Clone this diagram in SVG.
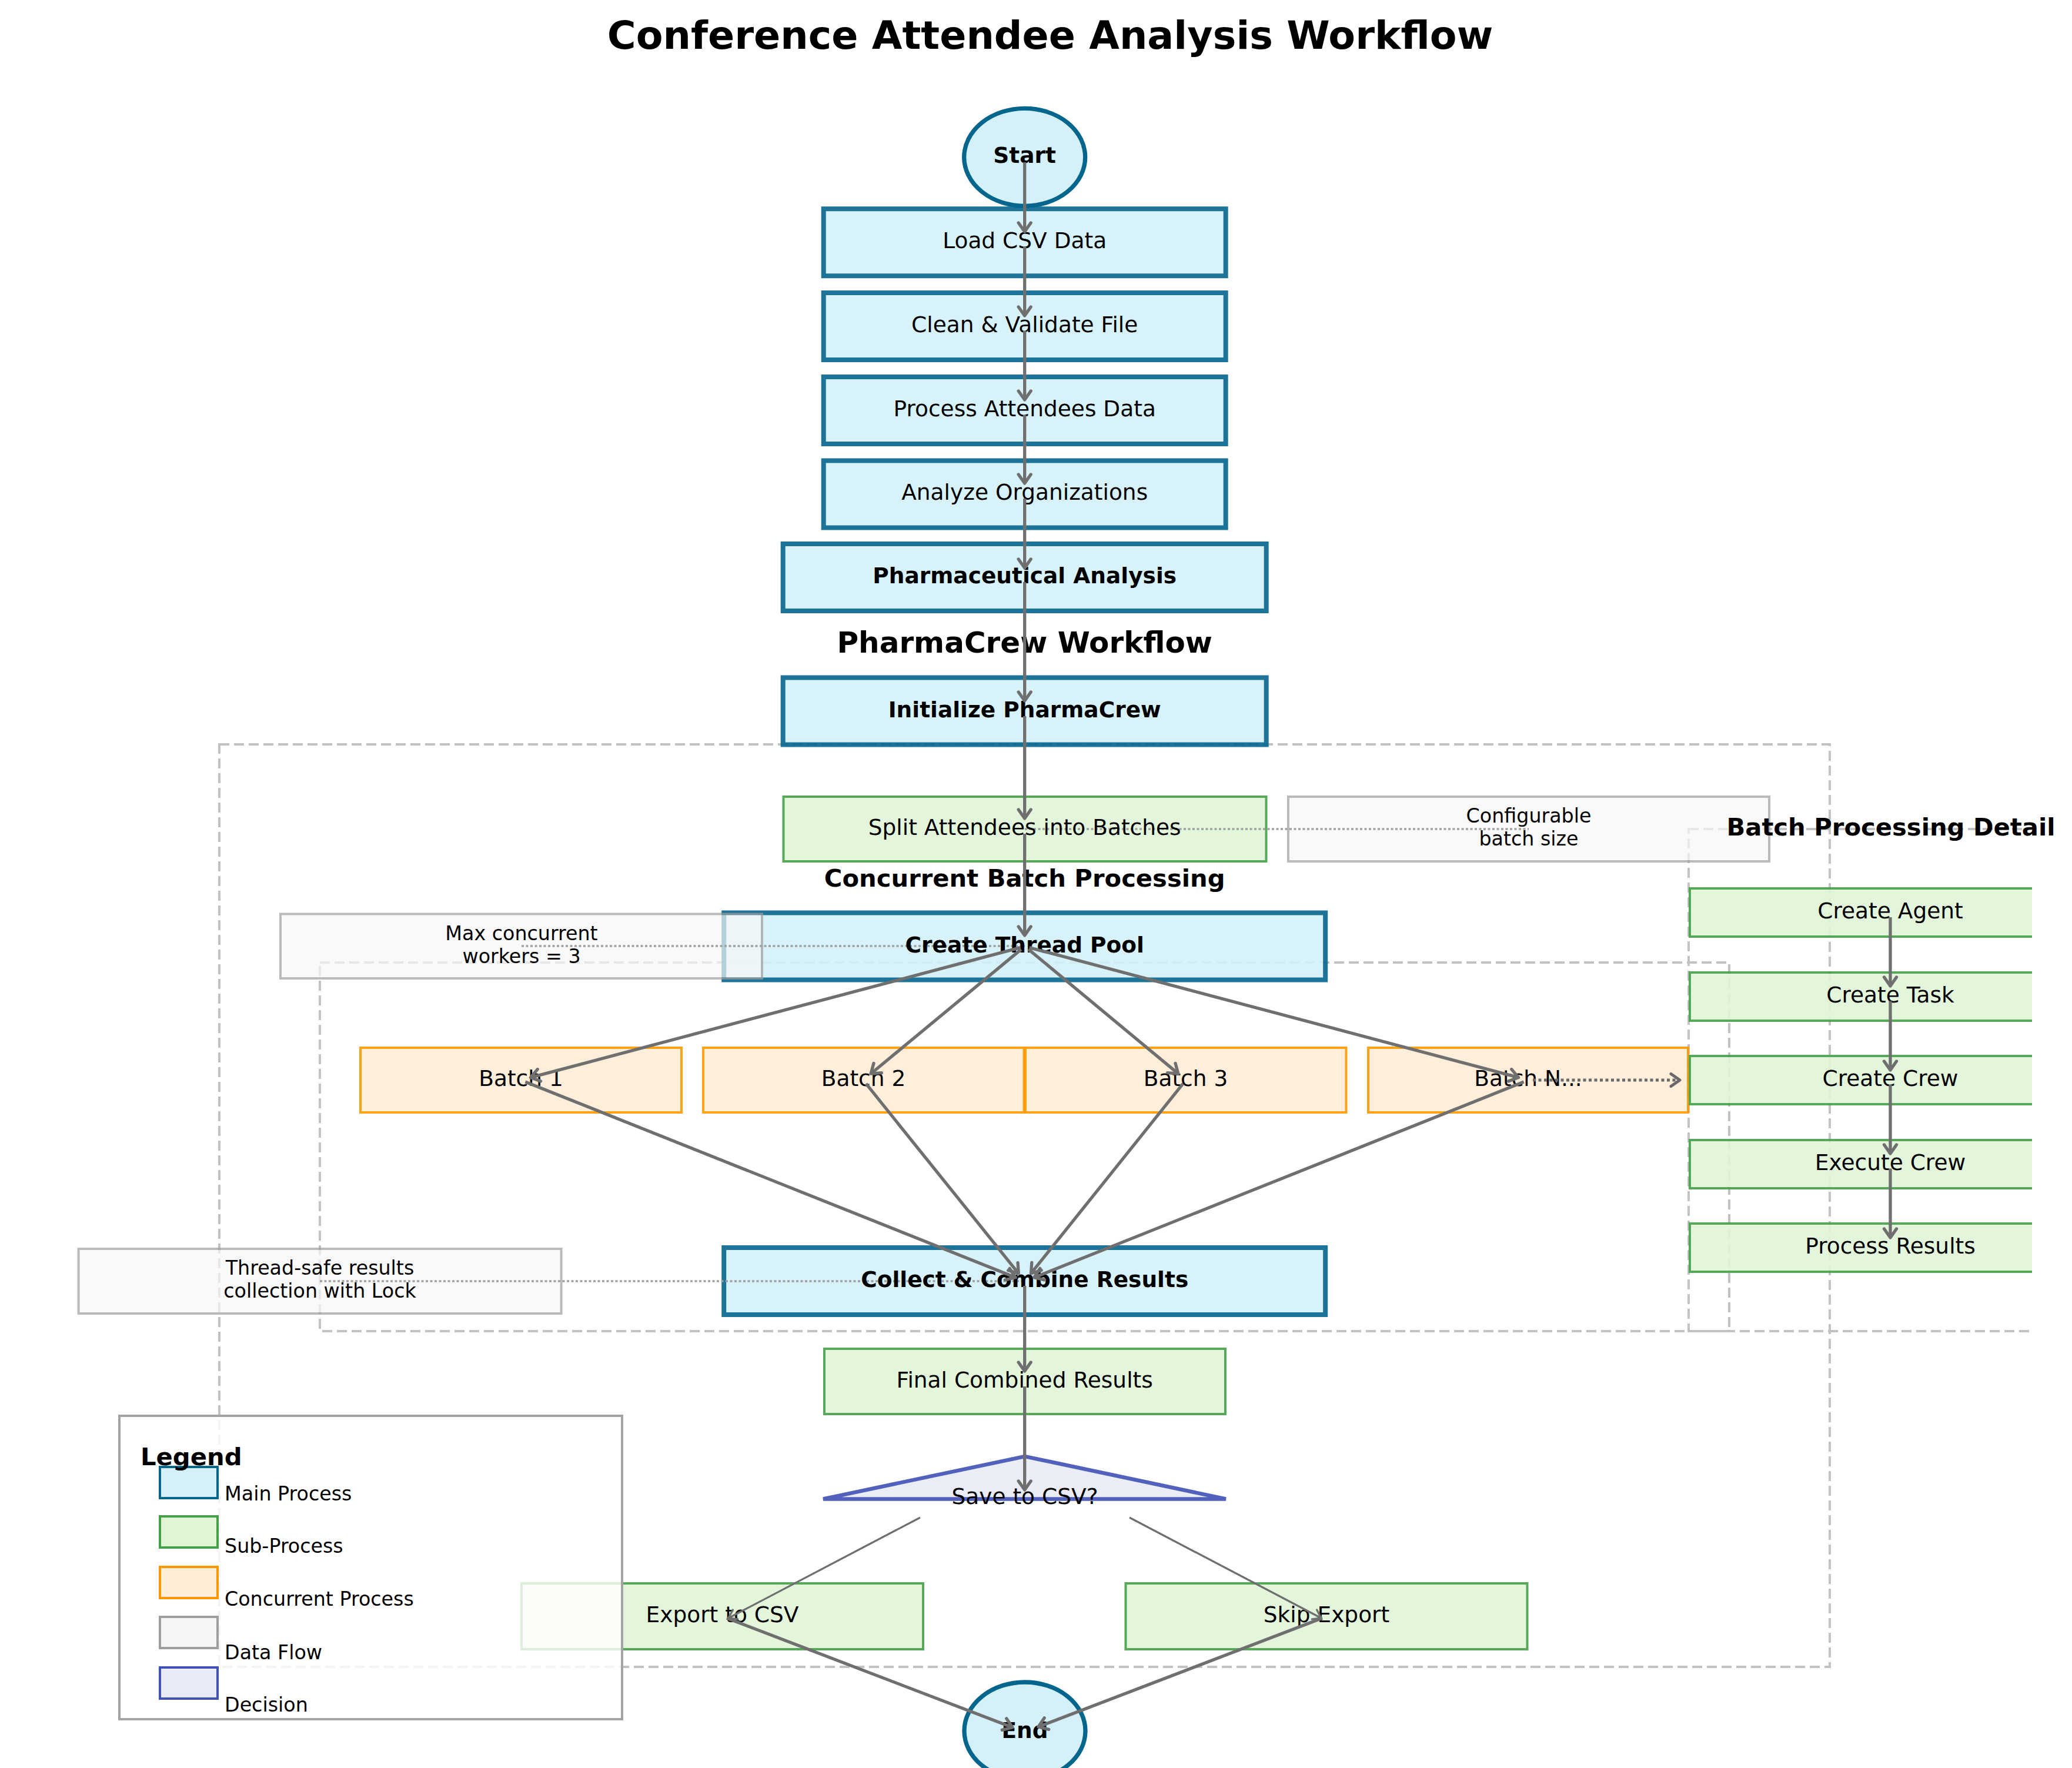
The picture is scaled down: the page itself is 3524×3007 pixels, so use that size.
<svg xmlns="http://www.w3.org/2000/svg" width="3524" height="3007" viewBox="0 0 3524 3007">
<style>
text{font-family:"DejaVu Sans","Liberation Sans",sans-serif;fill:#000}
.t{font-size:37.5px;text-anchor:middle}
.b{font-weight:bold}
.n{font-size:33.3px;text-anchor:middle}
.lg{font-size:33.3px}
.main{fill:#d4f1f9;stroke:#05668d;stroke-width:8;opacity:0.9}
.sub{fill:#e0f5d6;stroke:#43a047;stroke-width:4;opacity:0.9}
.conc{fill:#ffedd5;stroke:#ff9800;stroke-width:4;opacity:0.9}
.data{fill:#f7f7f7;stroke:#9e9e9e;stroke-width:4;opacity:0.7}
.dec{fill:#e8eaf6;stroke:#3f51b5;stroke-width:6.5;opacity:0.9;stroke-linejoin:miter}
.term{fill:#d4f1f9;stroke:#05668d;stroke-width:7.3}
.grp{fill:none;stroke:#c2c2c2;stroke-width:4;stroke-dasharray:17 8}
.flow{fill:none;stroke:#a0a0a0;stroke-width:3.5;stroke-dasharray:4 3.5}
.c{fill:none;stroke:#6f6f6f;stroke-width:5.3;marker-end:url(#ah)}
.cthin{fill:none;stroke:#6f6f6f;stroke-width:3.3;marker-end:url(#ah2)}
.cdot{fill:none;stroke:#6a6a6a;stroke-width:5;stroke-dasharray:5 4.5;marker-end:url(#ah3)}
</style>
<defs>
<marker id="ah" markerUnits="userSpaceOnUse" viewBox="-20 -20 40 40" markerWidth="40" markerHeight="40" refX="0" refY="0" orient="auto" overflow="visible"><path d="M-15,-10.5 L0,0 L-15,10.5" fill="none" stroke="#6f6f6f" stroke-width="5.3" stroke-linecap="round" stroke-linejoin="round"/></marker>
<marker id="ah2" markerUnits="userSpaceOnUse" viewBox="-20 -20 40 40" markerWidth="40" markerHeight="40" refX="0" refY="0" orient="auto" overflow="visible"><path d="M-13,-9 L0,0 L-13,9" fill="none" stroke="#6f6f6f" stroke-width="3.3" stroke-linecap="round" stroke-linejoin="round"/></marker>
<marker id="ah3" markerUnits="userSpaceOnUse" viewBox="-20 -20 40 40" markerWidth="40" markerHeight="40" refX="0" refY="0" orient="auto" overflow="visible"><path d="M-15,-10.5 L0,0 L-15,10.5" fill="none" stroke="#6a6a6a" stroke-width="5" stroke-linecap="round" stroke-linejoin="round"/></marker>
<clipPath id="ax"><rect x="0" y="0" width="3456" height="3007"/></clipPath>
</defs>
<rect x="0" y="0" width="3524" height="3007" fill="#ffffff"/>

<g id="groups">
<rect class="grp" x="373" y="1266" width="2739" height="1569"/>
<rect class="grp" x="544" y="1637" width="2397" height="627"/>
<rect class="grp" x="2872" y="1410" width="800" height="854" clip-path="url(#ax)"/>
</g>

<g id="start"><ellipse class="term" cx="1742.7" cy="267.3" rx="103" ry="83"/></g>
<g id="load"><rect class="main" x="1400.7" y="355.2" width="684" height="114"/></g>
<g id="clean"><rect class="main" x="1400.7" y="498" width="684" height="114"/></g>
<g id="process"><rect class="main" x="1400.7" y="641" width="684" height="114"/></g>
<g id="analyze"><rect class="main" x="1400.7" y="783.5" width="684" height="114"/></g>
<g id="pharma"><rect class="main" x="1331.7" y="925" width="822" height="114"/></g>
<g id="init"><rect class="main" x="1331.7" y="1152.5" width="822" height="114"/></g>
<g id="split"><rect class="sub" x="1332.5" y="1355" width="821" height="110"/></g>
<g id="pool"><rect class="main" x="1231.2" y="1552.5" width="1023" height="114"/></g>
<g id="batch1"><rect class="conc" x="613" y="1782" width="546" height="110"/></g>
<g id="batch2"><rect class="conc" x="1196" y="1782" width="545.5" height="110"/></g>
<g id="batch3"><rect class="conc" x="1744" y="1782" width="545.5" height="110"/></g>
<g id="batchn"><rect class="conc" x="2327" y="1782" width="544" height="110"/></g>
<g id="collect"><rect class="main" x="1231.2" y="2122" width="1023" height="114"/></g>
<g id="final"><rect class="sub" x="1402" y="2294" width="682" height="111"/></g>
<g id="decision"><polygon class="dec" points="1400,2549.5 2085,2549.5 1743,2477"/></g>
<g id="export"><rect class="sub" x="887" y="2693" width="683" height="112"/></g>
<g id="skip"><rect class="sub" x="1914.5" y="2693" width="683" height="112"/></g>
<g id="end"><ellipse class="term" cx="1743" cy="2944" rx="103" ry="83"/></g>

<g id="detail" clip-path="url(#ax)">
<rect class="sub" x="2874" y="1511" width="682" height="82"/>
<rect class="sub" x="2874" y="1654" width="682" height="82"/>
<rect class="sub" x="2874" y="1796" width="682" height="82"/>
<rect class="sub" x="2874" y="1939" width="682" height="82"/>
<rect class="sub" x="2874" y="2081" width="682" height="82"/>
</g>

<g id="notes">
<rect class="data" x="477" y="1554.5" width="819" height="109.5"/>
<rect class="data" x="2191" y="1355" width="818" height="110"/>
<rect class="data" x="133.6" y="2124" width="821" height="110"/>
</g>

<g id="dataflow">
<line class="flow" x1="1743" y1="1410" x2="2600" y2="1410"/>
<line class="flow" x1="887" y1="1609" x2="1743" y2="1609"/>
<line class="flow" x1="544" y1="2179" x2="1743" y2="2179"/>
</g>

<g id="legend">
<rect x="203" y="2408" width="855" height="516" fill="#ffffff" fill-opacity="0.8" stroke="#a3a3a3" stroke-width="4"/>
<rect x="272" y="2495" width="98" height="53" fill="#d4f1f9" stroke="#05668d" stroke-width="4"/>
<rect x="272" y="2579" width="98" height="53" fill="#e0f5d6" stroke="#43a047" stroke-width="4"/>
<rect x="272" y="2665" width="98" height="53" fill="#ffedd5" stroke="#ff9800" stroke-width="4"/>
<rect x="272" y="2750" width="98" height="53" fill="#f5f5f5" stroke="#9e9e9e" stroke-width="4"/>
<rect x="272" y="2836" width="98" height="53" fill="#e8eaf6" stroke="#3f51b5" stroke-width="4"/>
<text x="239" y="2492" class="b" style="font-size:41.7px">Legend</text>
<text x="382" y="2552" class="lg">Main Process</text>
<text x="382" y="2641" class="lg">Sub-Process</text>
<text x="382" y="2731" class="lg">Concurrent Process</text>
<text x="382" y="2822" class="lg">Data Flow</text>
<text x="382" y="2911" class="lg">Decision</text>
</g>

<g id="labels">
<text x="1786" y="83" class="b" style="font-size:66.7px;text-anchor:middle">Conference Attendee Analysis Workflow</text>
<text x="1742.7" y="277" class="t b">Start</text>
<text x="1742.7" y="422" class="t">Load CSV Data</text>
<text x="1742.7" y="565" class="t">Clean &amp; Validate File</text>
<text x="1742.7" y="708" class="t">Process Attendees Data</text>
<text x="1742.7" y="850" class="t">Analyze Organizations</text>
<text x="1742.7" y="992" class="t b">Pharmaceutical Analysis</text>
<text x="1742.7" y="1110" class="b" style="font-size:50px;text-anchor:middle">PharmaCrew Workflow</text>
<text x="1742.7" y="1219.5" class="t b">Initialize PharmaCrew</text>
<text x="1742.7" y="1420" class="t">Split Attendees into Batches</text>
<text x="1742.7" y="1508" class="b" style="font-size:41.7px;text-anchor:middle">Concurrent Batch Processing</text>
<text x="1742.7" y="1619.5" class="t b">Create Thread Pool</text>
<text x="886" y="1847" class="t">Batch 1</text>
<text x="1468.5" y="1847" class="t">Batch 2</text>
<text x="2016.5" y="1847" class="t">Batch 3</text>
<text x="2599" y="1847" class="t">Batch N...</text>
<text x="1742.7" y="2189" class="t b">Collect &amp; Combine Results</text>
<text x="1742.7" y="2360" class="t">Final Combined Results</text>
<text x="1743" y="2558" class="t">Save to CSV?</text>
<text x="1228.5" y="2759" class="t">Export to CSV</text>
<text x="2256" y="2759" class="t">Skip Export</text>
<text x="1743" y="2956" class="t b">End</text>
<text x="3216" y="1421" class="b" style="font-size:41.7px;text-anchor:middle">Batch Processing Detail</text>
<text x="3215" y="1562" class="t">Create Agent</text>
<text x="3215" y="1705" class="t">Create Task</text>
<text x="3215" y="1847" class="t">Create Crew</text>
<text x="3215" y="1990" class="t">Execute Crew</text>
<text x="3215" y="2132" class="t">Process Results</text>
<text x="887" y="1598.6" class="n">Max concurrent</text>
<text x="887" y="1638" class="n">workers = 3</text>
<text x="2600" y="1399.4" class="n">Configurable</text>
<text x="2600" y="1438" class="n">batch size</text>
<text x="544" y="2168.3" class="n">Thread-safe results</text>
<text x="544" y="2207.3" class="n">collection with Lock</text>
</g>

<g id="connectors">
<line class="c" x1="1742.7" y1="276" x2="1742.7" y2="394"/>
<line class="c" x1="1742.7" y1="420" x2="1742.7" y2="537"/>
<line class="c" x1="1742.7" y1="563" x2="1742.7" y2="680"/>
<line class="c" x1="1742.7" y1="706" x2="1742.7" y2="822"/>
<line class="c" x1="1742.7" y1="848" x2="1742.7" y2="966"/>
<line class="c" x1="1742.7" y1="990" x2="1742.7" y2="1192"/>
<line class="c" x1="1742.7" y1="1218" x2="1742.7" y2="1392"/>
<line class="c" x1="1742.7" y1="1418" x2="1742.7" y2="1591"/>
<line class="c" x1="1735.3" y1="1611.6" x2="902.4" y2="1832.6"/>
<line class="c" x1="1736.8" y1="1614.6" x2="1481.1" y2="1826.2"/>
<line class="c" x1="1749.2" y1="1614.6" x2="2003.9" y2="1826.1"/>
<line class="c" x1="1750.7" y1="1611.6" x2="2582.6" y2="1832.6"/>
<line class="c" x1="893.4" y1="1840" x2="1727.2" y2="2172.7"/>
<line class="c" x1="1473" y1="1843.2" x2="1732.3" y2="2165.8"/>
<line class="c" x1="2012" y1="1843.2" x2="1753.6" y2="2165.7"/>
<line class="c" x1="2591.6" y1="1840" x2="1758.8" y2="2172.7"/>
<line class="c" x1="1742.7" y1="2187" x2="1742.7" y2="2332"/>
<line class="c" x1="1742.7" y1="2358" x2="1742.7" y2="2534"/>
<line class="cthin" x1="1565" y1="2581" x2="1239" y2="2752"/>
<line class="cthin" x1="1921" y1="2581" x2="2247" y2="2752"/>
<line class="c" x1="1236" y1="2752" x2="1722" y2="2938"/>
<line class="c" x1="2249" y1="2752" x2="1766" y2="2937"/>
<line class="cdot" x1="2607" y1="1837" x2="2857" y2="1837"/>
<line class="c" x1="3215" y1="1560" x2="3215" y2="1677"/>
<line class="c" x1="3215" y1="1702.5" x2="3215" y2="1820"/>
<line class="c" x1="3215" y1="1845" x2="3215" y2="1962"/>
<line class="c" x1="3215" y1="1987.5" x2="3215" y2="2105"/>
</g>
</svg>
